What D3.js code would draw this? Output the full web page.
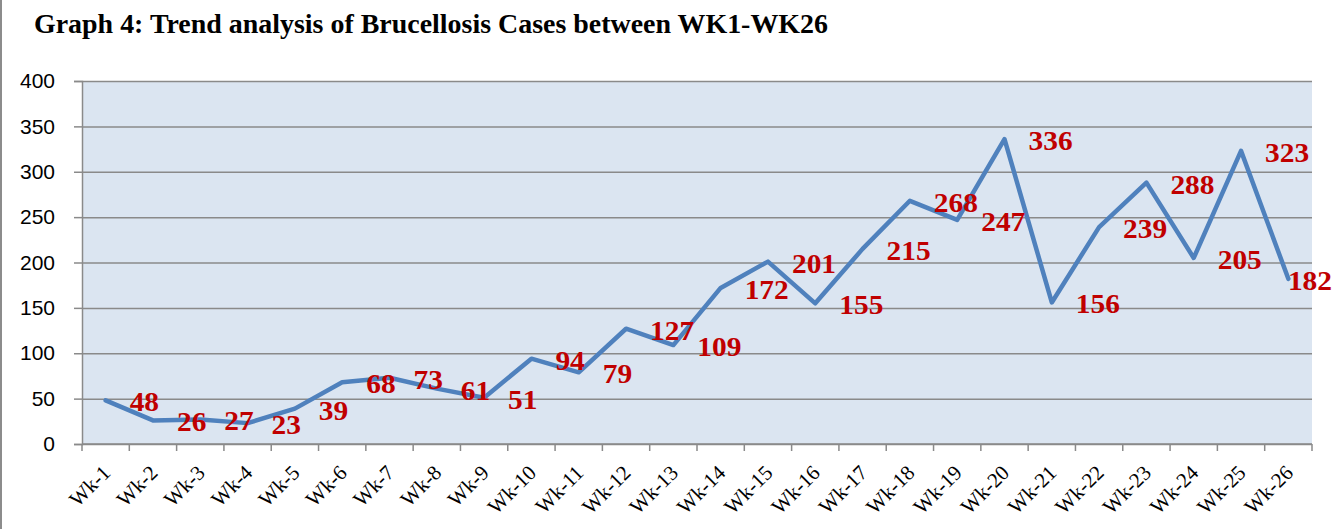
<!DOCTYPE html>
<html>
<head>
<meta charset="utf-8">
<script src="https://cdn.jsdelivr.net/npm/d3@7"></script>
<style>
	body { margin: 0; background: #ffffff; }
	svg { display: block; }
</style>
</head>
<body>
<script>
// chart data
var weeks = ["Wk-1", "Wk-2", "Wk-3", "Wk-4", "Wk-5", "Wk-6", "Wk-7", "Wk-8", "Wk-9", "Wk-10",
	"Wk-11", "Wk-12", "Wk-13", "Wk-14", "Wk-15", "Wk-16", "Wk-17", "Wk-18", "Wk-19", "Wk-20",
	"Wk-21", "Wk-22", "Wk-23", "Wk-24", "Wk-25", "Wk-26"];
var cases = [48, 26, 27, 23, 39, 68, 73, 61, 51, 94, 79, 127, 109, 172, 201, 155, 215, 268, 247, 336,
	156, 239, 288, 205, 323, 182];
var yTicks = [0, 50, 100, 150, 200, 250, 300, 350, 400];
var titleText = "Graph 4: Trend analysis of Brucellosis Cases between WK1-WK26";

document.addEventListener("DOMContentLoaded", function () {
	var width = 1335;
	var height = 529;
	var margin = { top: 81, right: 23, bottom: 85, left: 82 };

	var svg = d3.select("body").append("svg")
		.attr("width", width)
		.attr("height", height);

	// left border of the chart area
	svg.append("line")
		.attr("x1", 1).attr("x2", 1)
		.attr("y1", 0).attr("y2", height)
		.attr("stroke", "#8c8c8c")
		.attr("stroke-width", 2);

	// title
	svg.append("text")
		.attr("x", 34)
		.attr("y", 33)
		.attr("font-family", "'Liberation Serif', serif")
		.attr("font-weight", "bold")
		.attr("font-size", 27)
		.attr("textLength", 794)
		.attr("lengthAdjust", "spacingAndGlyphs")
		.attr("fill", "#000")
		.text(titleText);

	// scales
	var x = d3.scaleBand()
		.domain(weeks)
		.range([margin.left, width - margin.right])
		.padding(0);
	var y = d3.scaleLinear()
		.domain([0, 400])
		.range([height - margin.bottom, margin.top]);

	// plot background
	svg.append("rect")
		.attr("x", margin.left)
		.attr("y", y(400))
		.attr("width", x.range()[1] - margin.left)
		.attr("height", y(0) - y(400))
		.attr("fill", "#dbe5f1");

	// horizontal gridlines
	svg.append("g")
		.attr("class", "grid")
		.attr("transform", "translate(" + margin.left + ",0)")
		.call(d3.axisLeft(y).tickValues(yTicks).tickSize(-(x.range()[1] - margin.left)).tickFormat(""))
		.call(function (g) { g.select(".domain").remove(); })
		.selectAll("line")
		.attr("stroke", "#8a8a8a")
		.attr("stroke-width", 1.5);

	// y axis
	var yAxis = svg.append("g")
		.attr("transform", "translate(" + margin.left + ",0)")
		.call(d3.axisLeft(y).tickValues(yTicks).tickSize(8).tickPadding(19));
	yAxis.select(".domain").attr("stroke", "#8a8a8a").attr("stroke-width", 1.5);
	yAxis.selectAll(".tick line").attr("stroke", "#8a8a8a").attr("stroke-width", 1.5);
	yAxis.selectAll(".tick text")
		.attr("font-family", "'Liberation Sans', Arial, sans-serif")
		.attr("font-size", 21)
		.attr("fill", "#000");

	// x axis line and tick marks at category boundaries
	var xBase = y(0);
	var bounds = weeks.map(function (d) { return x(d); }).concat([x.range()[1]]);
	svg.append("line")
		.attr("x1", margin.left).attr("x2", x.range()[1])
		.attr("y1", xBase).attr("y2", xBase)
		.attr("stroke", "#8a8a8a").attr("stroke-width", 1.5);
	svg.append("g").selectAll("line")
		.data(bounds)
		.enter().append("line")
		.attr("x1", function (d) { return d; })
		.attr("x2", function (d) { return d; })
		.attr("y1", xBase)
		.attr("y2", xBase + 7)
		.attr("stroke", "#8a8a8a").attr("stroke-width", 1.5);

	// rotated category labels
	svg.append("g").selectAll("text")
		.data(weeks)
		.enter().append("text")
		.attr("transform", function (d) {
			return "translate(" + (x(d) + x.bandwidth() / 2 + 6) + "," + (xBase + 30) + ") rotate(-45)";
		})
		.attr("text-anchor", "end")
		.attr("font-family", "'Liberation Serif', serif")
		.attr("font-size", 21)
		.attr("fill", "#000")
		.text(function (d) { return d; });

	// the line
	var line = d3.line()
		.x(function (d, i) { return x(weeks[i]) + x.bandwidth() / 2; })
		.y(function (d) { return y(d); });

	svg.append("path")
		.datum(cases)
		.attr("fill", "none")
		.attr("stroke", "#4f81bd")
		.attr("stroke-width", 4.5)
		.attr("stroke-linejoin", "round")
		.attr("stroke-linecap", "round")
		.attr("d", line);

	// data labels, placed right of each point
	var digitW = 14.7;
	svg.append("g").selectAll("text")
		.data(cases)
		.enter().append("text")
		.attr("x", function (d, i) {
			var w = String(d).length * digitW;
			var px = x(weeks[i]) + x.bandwidth() / 2 + 24;
			return Math.min(px, width - 3 - w);
		})
		.attr("y", function (d) { return y(d) + 11; })
		.attr("font-family", "'Liberation Serif', serif")
		.attr("font-weight", "bold")
		.attr("font-size", 27)
		.attr("textLength", function (d) { return String(d).length * digitW; })
		.attr("lengthAdjust", "spacingAndGlyphs")
		.attr("fill", "#c00000")
		.text(function (d) { return d; });
});
</script>
</body>
</html>
